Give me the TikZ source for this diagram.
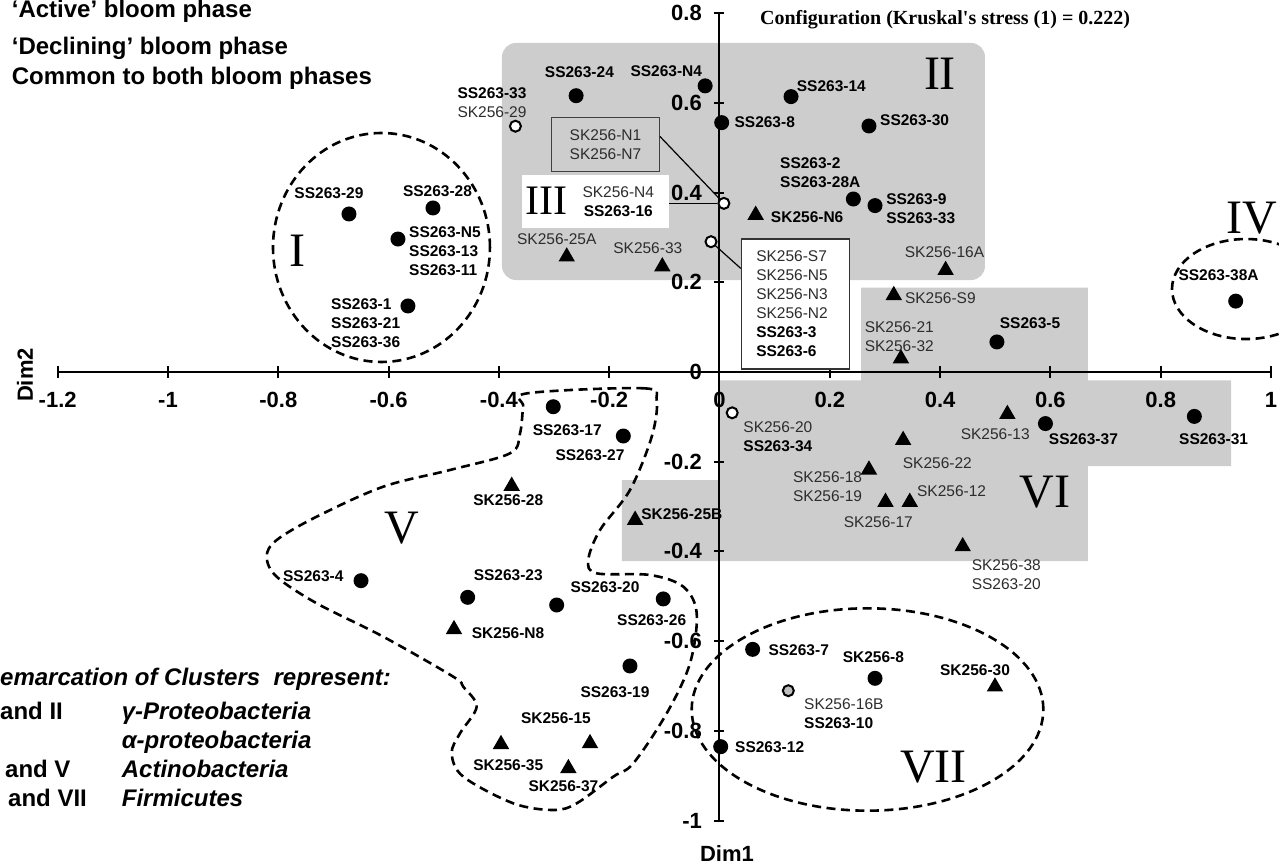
\documentclass[tikz,border=0pt]{standalone}
\usepackage{fontspec}
\setmainfont{Liberation Sans}
\newfontfamily\timesfont{Liberation Serif}
\usepackage{tikz}
\usetikzlibrary{shapes.geometric, positioning}
\definecolor{zone}{RGB}{205,205,205}
\definecolor{labgray}{RGB}{45,45,45}
\tikzstyle{dot2} = [circle, fill=black, inner sep=0pt, minimum size=15pt]
\tikzstyle{ring2} = [circle, draw=black, line width=2pt, fill=white, inner sep=0pt, minimum size=11pt]
\tikzstyle{tri2} = [regular polygon, regular polygon sides=3, fill=black, inner sep=0pt, minimum size=19pt]
\tikzstyle{bold2} = [inner sep=0pt, align=center, font=\fontsize{15.5}{19}\selectfont\bfseries]
\tikzstyle{reg2} = [inner sep=0pt, align=center, text=labgray, font=\fontsize{15.5}{19}\selectfont]
\tikzstyle{roman2} = [inner sep=0pt, font=\fontsize{48}{48}\selectfont\timesfont]
\tikzstyle{tick2} = [inner sep=0pt, font=\fontsize{22}{24}\selectfont\bfseries]
\tikzstyle{axis2} = [line width=2pt]
\tikzstyle{cluster2} = [line width=2.6pt, dash pattern=on 9pt off 5.5pt]
\tikzstyle{link2} = [line width=1.2pt]
\tikzstyle{legend2} = [inner sep=0pt, anchor=base west, font=\fontsize{24}{26}\selectfont\bfseries]
\tikzstyle{legendit2} = [legend2, font=\fontsize{24}{26}\selectfont\bfseries\itshape]
\newcommand{\boldlab}[1]{{\color{black}\bfseries #1}}

\begin{document}
\begin{tikzpicture}[x=551.5pt, y=448.5pt]
\useasboundingbox (-1.3046,-1.1015) rectangle (1.0145,0.8294);

            % Shaded zones
            \fill[zone, rounded corners=14pt] (-0.3944,0.2051) rectangle (0.4814,0.7336);
            \fill[zone] (0,-0.0186) -- (0.257,-0.0186) -- (0.257,0.188) -- (0.668,0.188) -- (0.668,-0.0186)
                -- (0.9275,-0.0186) -- (0.9275,-0.2097) -- (0.668,-0.2097) -- (0.668,-0.4216)
                -- (-0.177,-0.4216) -- (-0.177,-0.241) -- (0,-0.241) -- cycle;

            % Axes
            \draw[axis2] (-1.2,0) -- (1,0);
            \draw[axis2] (0,-1) -- (0,0.8);
            \foreach \x in {-1.2,-1,-0.8,-0.6,-0.4,-0.2,0,0.2,0.4,0.6,0.8,1} {
                \draw[axis2] ([yshift=-6pt]\x,0) -- ([yshift=6pt]\x,0);
                \node[tick2] (xt\x) at (\x,-0.0624) {\x};
            }
            \foreach \y in {0.8,0.6,0.4,0.2,0,-0.2,-0.4,-0.6,-0.8,-1} {
                \draw[axis2] ([xshift=-5pt]0,\y) -- ([xshift=5pt]0,\y);
                \node[tick2, anchor=east] (yt\y) at (-0.0317,\y) {\y};
            }
            \node[tick2, rotate=90] (dim2) at (-1.2593,-0.0067) {Dim2};
            \node[tick2] (dim1) at (0.0136,-1.0726) {Dim1};
            \node[inner sep=0pt, anchor=base west, font=\fontsize{20}{22}\selectfont\timesfont\bfseries] (title) at (0.0734,0.7737) {Configuration (Kruskal's stress (1) = 0.222)};

            % Cluster outlines
            \draw[cluster2] (-0.6129,0.2776) ellipse [x radius=0.1967, y radius=0.2553];
            \draw[cluster2] (0.9547,0.185) ellipse [x radius=0.1342, y radius=0.1115];
            \draw[cluster2] (0.2684,-0.7525) ellipse [x radius=0.3188, y radius=0.2256];
            \draw[cluster2] plot[smooth cycle, tension=0.55] coordinates {
                (-0.3485,-0.0475) (-0.1382,-0.0363) (-0.1139,-0.0624) (-0.1229,-0.1443) (-0.1623,-0.2631)
                (-0.2167,-0.3523) (-0.2379,-0.4192) (-0.2227,-0.4488) (-0.1260,-0.4526) (-0.0656,-0.4787)
                (-0.0413,-0.538) (-0.0535,-0.6495) (-0.0957,-0.761) (-0.1563,-0.8725) (-0.1926,-0.9023)
                (-0.2589,-0.9617) (-0.3014,-0.9766) (-0.3739,-0.9617) (-0.4646,-0.9023) (-0.4856,-0.8502)
                (-0.4705,-0.8056) (-0.4403,-0.7463) (-0.4646,-0.7017) (-0.4827,-0.6794) (-0.6096,-0.5902)
                (-0.7304,-0.5157) (-0.8029,-0.4564) (-0.8210,-0.4118) (-0.8029,-0.3746) (-0.7304,-0.3226)
                (-0.6096,-0.2557) (-0.4887,-0.2185) (-0.3799,-0.1813) (-0.3617,-0.1367) (-0.3558,-0.0774)};

            % Boxes of cluster III
            \node[reg2, draw=black!75, line width=1.2pt, fill=zone, minimum width=107.7pt, minimum height=54.3pt] (n1box) at (-0.2067,0.5073) {SK256-N1\\SK256-N7};
            \node[fill=white, inner sep=0pt, minimum width=147.6pt, minimum height=52.7pt] (n4box) at (-0.2249,0.3805) {};
            \node[roman2, font=\fontsize{42}{42}\selectfont\timesfont] (c3) at (-0.3133,0.3817) {III};
            \node[reg2] (n4l) at (-0.1835,0.3798) {SK256-N4\\\boldlab{SS263-16}};
            \node[reg2, draw=black!80, line width=1.2pt, fill=white, anchor=north west, align=left, text width=78pt, inner xsep=15pt, minimum height=130pt] (s7box) at (0.0384,0.298) {SK256-S7\\SK256-N5\\SK256-N3\\SK256-N2\\\boldlab{SS263-3}\\\boldlab{SS263-6}};
            \node[ring2] (ringn) at (0.008,0.376) {};
            \node[ring2] (rings) at (-0.0154,0.2905) {};
            \draw[link2] ([yshift=8pt]n1box.east) -- (ringn);
            \draw[link2] (n4box.east |- ringn) -- (ringn);
            \draw[link2] (rings) -- ([yshift=-30pt]s7box.north west);

            % Cluster I
            \node[dot2] (ss29) at (-0.6718,0.3523) {};
            \node[bold2] (ss29l) at (-0.7081,0.3991) {SS263-29};
            \node[dot2] (ss28) at (-0.5195,0.3657) {};
            \node[bold2] (ss28l) at (-0.5113,0.4036) {SS263-28};
            \node[dot2] (ssn5) at (-0.583,0.2965) {};
            \node[bold2, anchor=west, align=left] (ssn5l) at (-0.563,0.2698) {SS263-N5\\SS263-13\\SS263-11};
            \node[dot2] (ss1) at (-0.5649,0.1472) {};
            \node[bold2, anchor=west, align=left] (ss1l) at (-0.7044,0.1093) {SS263-1\\SS263-21\\SS263-36};
            \node[roman2] (c1) at (-0.7643,0.2705) {I};

            % Cluster II
            \node[ring2] (ss33) at (-0.370,0.548) {};
            \node[reg2] (ss33l) at (-0.4125,0.6015) {\boldlab{SS263-33}\\SK256-29};
            \node[dot2] (ss24) at (-0.260,0.616) {};
            \node[bold2] (ss24l) at (-0.254,0.668) {SS263-24};
            \node[dot2] (ssn4) at (-0.026,0.638) {};
            \node[bold2] (ssn4l) at (-0.0965,0.671) {SS263-N4};
            \node[dot2] (ss8) at (0.004,0.556) {};
            \node[bold2, anchor=west] (ss8l) at (0.027,0.557) {SS263-8};
            \node[dot2] (ss14) at (0.1297,0.614) {};
            \node[bold2, anchor=west] (ss14l) at (0.14,0.638) {SS263-14};
            \node[dot2] (ss30) at (0.271,0.5485) {};
            \node[bold2, anchor=west] (ss30l) at (0.291,0.562) {SS263-30};
            \node[dot2] (ss2) at (0.2427,0.3857) {};
            \node[bold2, anchor=west, align=left] (ss2l) at (0.1097,0.4448) {SS263-2\\SS263-28A};
            \node[dot2] (ss9) at (0.282,0.371) {};
            \node[bold2, anchor=west, align=left] (ss9l) at (0.302,0.3631) {SS263-9\\SS263-33};
            \node[tri2] (skn6) at (0.0656,0.350) {};
            \node[bold2, anchor=west] (skn6l) at (0.093,0.346) {SK256-N6};
            \node[tri2] (sk16a) at (0.41,0.227) {};
            \node[reg2] (sk16al) at (0.408,0.268) {SK256-16A};
            \node[tri2] (sk25a) at (-0.277,0.257) {};
            \node[reg2] (sk25al) at (-0.295,0.296) {SK256-25A};
            \node[tri2] (sk33) at (-0.1037,0.235) {};
            \node[reg2] (sk33l) at (-0.130,0.276) {SK256-33};
            \node[roman2] (c2) at (0.3998,0.666) {II};

            % Cluster IV
            \node[dot2] (ss38a) at (0.936,0.158) {};
            \node[bold2] (ss38al) at (0.905,0.216) {SS263-38A};
            \node[roman2] (c4) at (0.9655,0.3427) {IV};

            % Cluster VI
            \node[tri2] (sks9) at (0.316,0.171) {};
            \node[reg2, anchor=west] (sks9l) at (0.336,0.164) {SK256-S9};
            \node[dot2] (ss5) at (0.503,0.067) {};
            \node[bold2, anchor=west] (ss5l) at (0.508,0.108) {SS263-5};
            \node[tri2] (sk21) at (0.329,0.030) {};
            \node[reg2] (sk21l) at (0.326,0.079) {SK256-21\\SK256-32};
            \node[tri2] (sk13) at (0.522,-0.094) {};
            \node[reg2] (sk13l) at (0.5,-0.1375) {SK256-13};
            \node[dot2] (ss37) at (0.591,-0.115) {};
            \node[bold2, anchor=west] (ss37l) at (0.597,-0.150) {SS263-37};
            \node[dot2] (ss31) at (0.861,-0.099) {};
            \node[bold2] (ss31l) at (0.896,-0.150) {SS263-31};
            \node[ring2] (sk20) at (0.023,-0.091) {};
            \node[reg2, anchor=west, align=left] (sk20l) at (0.043,-0.144) {SK256-20\\\boldlab{SS263-34}};
            \node[tri2] (sk22) at (0.333,-0.152) {};
            \node[reg2] (sk22l) at (0.395,-0.204) {SK256-22};
            \node[tri2] (sk18) at (0.271,-0.218) {};
            \node[reg2] (sk18l) at (0.196,-0.2555) {SK256-18\\SK256-19};
            \node[tri2] (sk17) at (0.301,-0.29) {};
            \node[reg2] (sk17l) at (0.288,-0.335) {SK256-17};
            \node[tri2] (sk12) at (0.345,-0.29) {};
            \node[reg2, anchor=west] (sk12l) at (0.358,-0.266) {SK256-12};
            \node[tri2] (sk38) at (0.441,-0.389) {};
            \node[reg2] (sk38l) at (0.52,-0.451) {SK256-38\\SS263-20};
            \node[tri2] (sk25b) at (-0.153,-0.330) {};
            \node[bold2, anchor=west] (sk25bl) at (-0.142,-0.317) {SK256-25B};
            \node[roman2] (c6) at (0.59,-0.2677) {VI};

            % Cluster V
            \node[dot2] (ss17) at (-0.3014,-0.0774) {};
            \node[bold2] (ss17l) at (-0.276,-0.1308) {SS263-17};
            \node[dot2] (ss27) at (-0.1744,-0.1427) {};
            \node[bold2] (ss27l) at (-0.2348,-0.185) {SS263-27};
            \node[tri2] (sk28) at (-0.3768,-0.2542) {};
            \node[bold2] (sk28l) at (-0.383,-0.2854) {SK256-28};
            \node[dot2] (ss4) at (-0.650,-0.4653) {};
            \node[bold2] (ss4l) at (-0.7365,-0.4548) {SS263-4};
            \node[dot2] (ss23) at (-0.4566,-0.5024) {};
            \node[bold2] (ss23l) at (-0.383,-0.4526) {SS263-23};
            \node[tri2] (skn8) at (-0.4814,-0.5738) {};
            \node[bold2, anchor=west] (skn8l) at (-0.4493,-0.5813) {SK256-N8};
            \node[dot2] (ss20) at (-0.2952,-0.5195) {};
            \node[bold2] (ss20l) at (-0.2076,-0.48) {SS263-20};
            \node[dot2] (ss26) at (-0.102,-0.506) {};
            \node[bold2] (ss26l) at (-0.123,-0.553) {SS263-26};
            \node[dot2] (ss19) at (-0.1623,-0.6555) {};
            \node[bold2] (ss19l) at (-0.1895,-0.7128) {SS263-19};
            \node[tri2] (sk15) at (-0.2348,-0.828) {};
            \node[bold2] (sk15l) at (-0.2965,-0.772) {SK256-15};
            \node[tri2] (sk35) at (-0.3962,-0.830) {};
            \node[bold2] (sk35l) at (-0.383,-0.876) {SK256-35};
            \node[tri2] (sk37) at (-0.274,-0.8837) {};
            \node[bold2] (sk37l) at (-0.283,-0.923) {SK256-37};
            \node[roman2] (c5) at (-0.5763,-0.3485) {V};

            % Cluster VII
            \node[dot2] (ss7) at (0.0601,-0.6184) {};
            \node[bold2, anchor=west] (ss7l) at (0.0886,-0.6198) {SS263-7};
            \node[dot2] (sk8) at (0.282,-0.683) {};
            \node[bold2] (sk8l) at (0.279,-0.6348) {SK256-8};
            \node[tri2] (sk30) at (0.4995,-0.7017) {};
            \node[bold2] (sk30l) at (0.4633,-0.6644) {SK256-30};
            \node[ring2, fill=gray!50] (sk16b) at (0.1248,-0.7106) {};
            \node[reg2, anchor=west, align=left] (sk16bl) at (0.1532,-0.7607) {SK256-16B\\\boldlab{SS263-10}};
            \node[dot2] (ss12) at (0.0022,-0.8354) {};
            \node[bold2, anchor=west] (ss12l) at (0.0281,-0.8354) {SS263-12};
            \node[roman2] (c7) at (0.3877,-0.8818) {VII};

            % Legends
            \node[legend2] (leg1) at (-1.2834,0.7904) {‘Active’ bloom phase};
            \node[legend2] (leg2) at (-1.2834,0.709) {‘Declining’ bloom phase};
            \node[legend2] (leg3) at (-1.2834,0.640) {Common to both bloom phases};
            \node[legendit2] (dem) at (-1.3046,-0.6979) {emarcation of Clusters~ represent:};
            \node[legend2] (dem1) at (-1.3046,-0.7759) {and II};
            \node[legendit2] (dem1t) at (-1.0840,-0.7759) {γ-Proteobacteria};
            \node[legendit2] (dem2t) at (-1.0840,-0.839) {α-proteobacteria};
            \node[legend2] (dem3) at (-1.2956,-0.9046) {and V};
            \node[legendit2] (dem3t) at (-1.0840,-0.9046) {Actinobacteria};
            \node[legend2] (dem4) at (-1.2901,-0.9677) {and VII};
            \node[legendit2] (dem4t) at (-1.0840,-0.9677) {Firmicutes};
\end{tikzpicture}
\end{document}
